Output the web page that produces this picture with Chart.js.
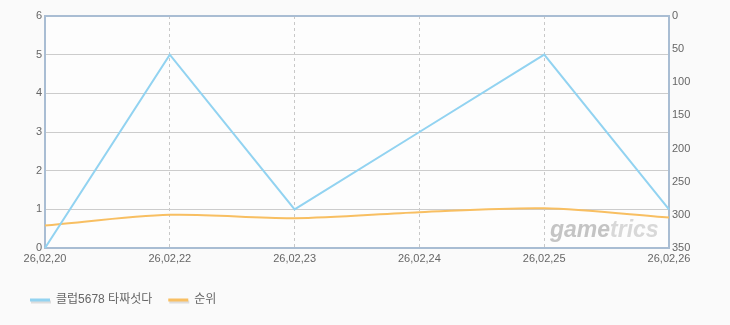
<!DOCTYPE html>
<html>
<head>
<meta charset="utf-8">
<script src="https://cdn.jsdelivr.net/npm/chart.js@4.4.1/dist/chart.umd.min.js"></script>
<style>
  html, body { margin: 0; padding: 0; background: #fafafa; }
  #wrap { width: 730px; height: 325px; }
</style>
</head>
<body>
<div id="wrap"><canvas id="chart" width="730" height="325"></canvas></div>
<script>
// 차트 데이터
const dates = ['26,02,20', '26,02,22', '26,02,23', '26,02,24', '26,02,25', '26,02,26'];
const viewers = [0, 5, 1, 3, 5, 1];
const ranks = [316, 300, 305, 296, 290, 304];
const seriesNames = ['클럽5678 타짜섯다', '순위'];
const leftTicks = [0, 6, 1];      // min, max, step
const rightTicks = [0, 350, 50];  // min, max, step

const FONT = { family: "'Liberation Sans', 'Noto Sans CJK KR', sans-serif", size: 11 };
const TEXT = '#666666';

// 플롯 배경 + 테두리
const frame = {
  id: 'frame',
  beforeDraw(chart) {
    const { ctx, chartArea: a } = chart;
    ctx.save();
    ctx.fillStyle = '#fdfdfd';
    ctx.fillRect(a.left, a.top, a.right - a.left, a.bottom - a.top);
    ctx.restore();
  },
  beforeDatasetsDraw(chart) {
    const { ctx, chartArea: a } = chart;
    ctx.save();
    ctx.strokeStyle = '#a9bdd3';
    ctx.lineWidth = 2;
    ctx.strokeRect(a.left, a.top, a.right - a.left, a.bottom - a.top);
    // watermark
    ctx.font = "italic bold 23px 'Liberation Sans', sans-serif";
    ctx.textBaseline = 'alphabetic';
    ctx.fillStyle = '#c4c4c4';
    ctx.fillText('game', 550, 237);
    const w = ctx.measureText('game').width;
    ctx.fillStyle = '#d8d8d8';
    ctx.fillText('trics', 550 + w, 237);
    ctx.restore();
  }
};

// 하단 범례
const legendBox = {
  id: 'legendBox',
  afterDraw(chart) {
    const { ctx } = chart;
    let x = 30;
    const y = 300;
    ctx.save();
    ctx.font = `${FONT.size + 1}px ${FONT.family}`;
    ctx.textBaseline = 'middle';
    chart.data.datasets.forEach(ds => {
      ctx.lineWidth = 3;
      ctx.strokeStyle = '#dddddd';
      ctx.beginPath(); ctx.moveTo(x + 1, y + 2); ctx.lineTo(x + 21, y + 2); ctx.stroke();
      ctx.strokeStyle = ds.borderColor;
      ctx.beginPath(); ctx.moveTo(x, y); ctx.lineTo(x + 20, y); ctx.stroke();
      ctx.fillStyle = TEXT;
      ctx.fillText(ds.label, x + 26, y);
      x += 26 + ctx.measureText(ds.label).width + 16;
    });
    ctx.restore();
  }
};

new Chart(document.getElementById('chart').getContext('2d'), {
  type: 'line',
  data: {
    labels: dates,
    datasets: [
      {
        label: seriesNames[0],
        data: viewers,
        yAxisID: 'y',
        borderColor: '#92d3f1',
        borderWidth: 2,
        pointRadius: 0,
        tension: 0
      },
      {
        label: seriesNames[1],
        data: ranks,
        yAxisID: 'y1',
        borderColor: '#f8bf62',
        borderWidth: 2,
        pointRadius: 0,
        tension: 0.3
      }
    ]
  },
  options: {
    responsive: false,
    animation: false,
    layout: { padding: { top: 16, left: 0, right: 0, bottom: 0 } },
    plugins: { legend: { display: false }, tooltip: { enabled: false } },
    scales: {
      x: {
        offset: false,
        grid: { color: '#c8c8c8', drawTicks: false },
        border: { display: false, dash: [3, 3] },
        ticks: { color: TEXT, font: FONT, padding: 4, maxRotation: 0, autoSkip: false },
        afterFit(scale) { scale.height = 77; }
      },
      y: {
        position: 'left',
        min: leftTicks[0], max: leftTicks[1],
        grid: { color: '#cccccc', drawTicks: false },
        border: { display: false },
        ticks: { stepSize: leftTicks[2], color: TEXT, font: FONT, padding: 3 },
        afterFit(scale) { scale.width = 45; }
      },
      y1: {
        position: 'right',
        reverse: true,
        min: rightTicks[0], max: rightTicks[1],
        grid: { display: false, drawTicks: false },
        border: { display: false },
        ticks: { stepSize: rightTicks[2], color: TEXT, font: FONT, padding: 3 },
        afterFit(scale) { scale.width = 61; }
      }
    }
  },
  plugins: [frame, legendBox]
});
</script>
</body>
</html>
